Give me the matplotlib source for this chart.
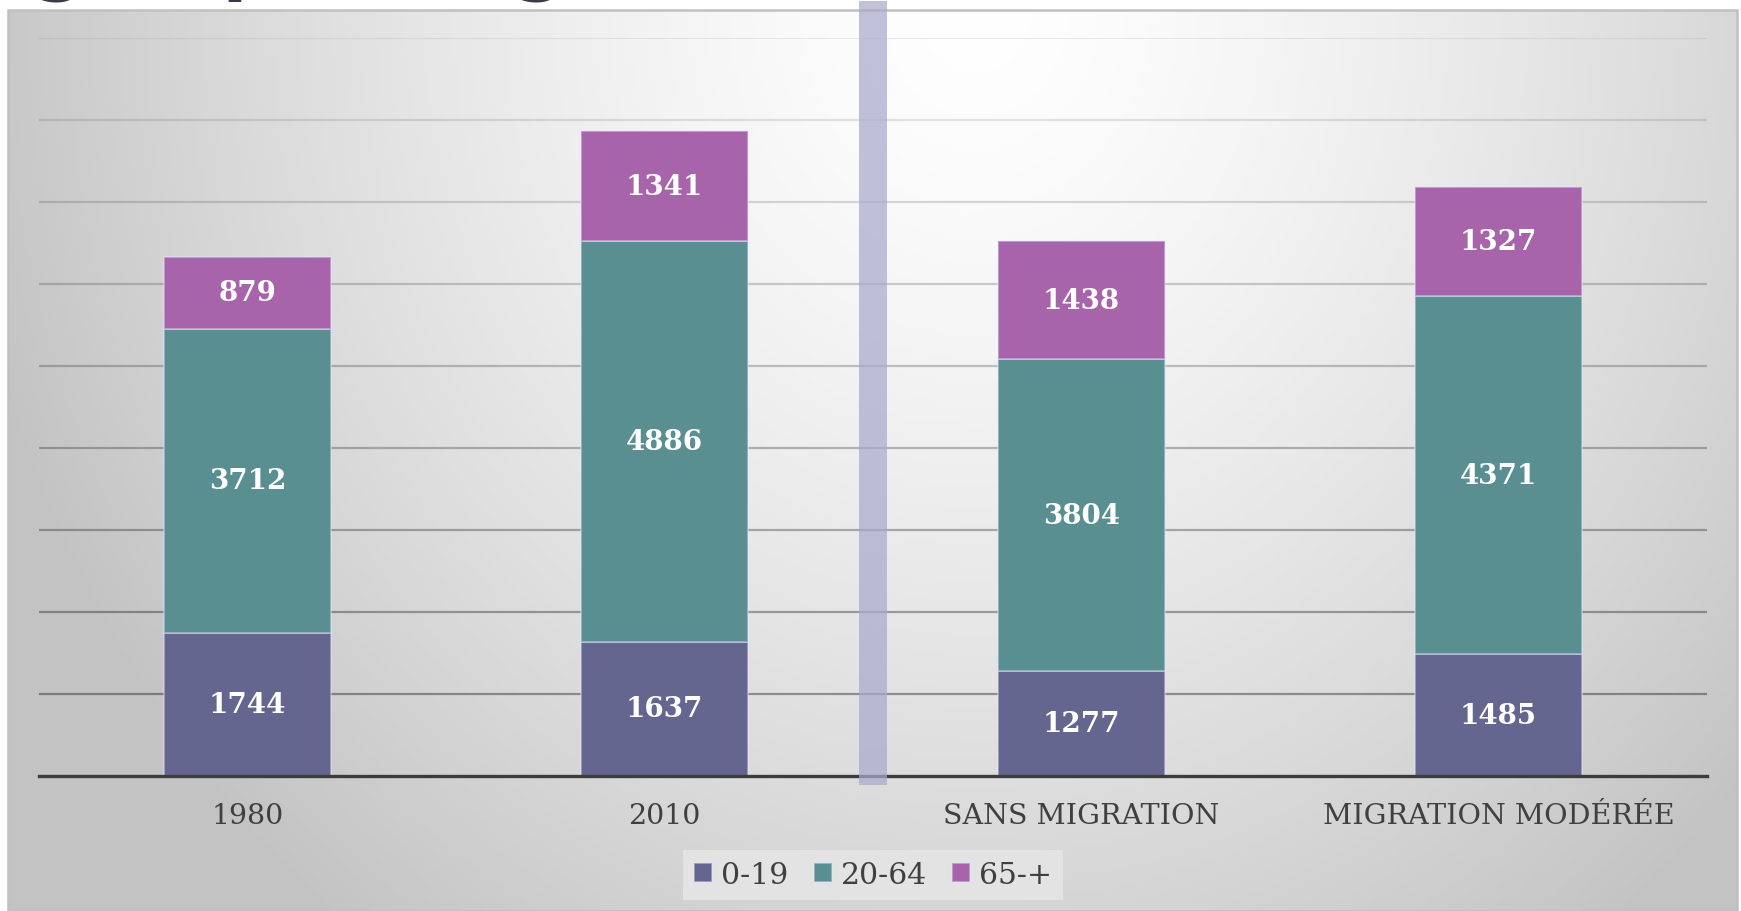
import numpy as np
import matplotlib
matplotlib.use('Agg')
import matplotlib.pyplot as plt
from matplotlib.patches import Rectangle

# ── data ────────────────────────────────────────────────────────────────
categories = ["1980", "2010", "SANS MIGRATION", "MIGRATION MODÉRÉE"]
age_groups = ["0-19", "20-64", "65-+"]
pop_0_19   = [1744, 1637, 1277, 1485]
pop_20_64  = [3712, 4886, 3804, 4371]
pop_65     = [879, 1341, 1438, 1327]
grid_levels = list(range(1000, 9001, 1000))

COLORS = ["#65668f", "#5a8f91", "#a864ab"]
TEXT_C = "#404040"
SERIF  = "DejaVu Serif"

fig = plt.figure(figsize=(17.41, 9.12), dpi=100)
fig.patch.set_facecolor("white")

# ── gradient panel behind the chart ─────────────────────────────────────
px0, py0, px1, py1 = 8 / 1741, 0.0, 1737 / 1741, 1 - 11 / 912
bg = fig.add_axes([px0, py0, px1 - px0, py1 - py0], zorder=0)
gx, gy = np.meshgrid(np.linspace(0, 1, 500), np.linspace(0, 1, 260))
d = np.sqrt(((gx - 0.56) / 0.6) ** 2 + ((gy - 1.0) / 1.3) ** 2)
shade = 255 - 60 * np.clip(d, 0, 1) ** 1.4
img = np.dstack([shade, shade, shade]).astype(np.uint8)
bg.imshow(img, origin="lower", extent=[0, 1, 0, 1], aspect="auto")
bg.set_xlim(0, 1)
bg.set_ylim(0, 1)
bg.axis("off")
fig.patches.append(Rectangle((px0, py0), px1 - px0, py1 - py0, transform=fig.transFigure,
                             fill=False, edgecolor="#c0c0c0", lw=1.8, zorder=1))

# clipped title, only the descenders show at the top edge
fig.text(34 / 1741, 1 + 13 / 912, "groupes d'âge", fontsize=52, fontweight="bold",
         color="#3a3a48", va="baseline", ha="left", family="DejaVu Sans")

# ── main axes ───────────────────────────────────────────────────────────
ax = fig.add_axes([39 / 1741, 135 / 912, 1668 / 1741, 738 / 912], zorder=2)
ax.patch.set_alpha(0)
x = np.arange(len(categories))
width = 0.4

# gridlines get darker toward the baseline
for lvl in grid_levels:
    a = 0.07 + 0.30 * (1 - (lvl - 1000) / 8000)
    ax.axhline(lvl, color="black", alpha=a, lw=1.6, zorder=1)

bottoms = np.zeros(len(categories))
for vals, name, col in zip([pop_0_19, pop_20_64, pop_65], age_groups, COLORS):
    bars = ax.bar(x, vals, width, bottom=bottoms, color=col, label=name,
                  edgecolor=(0.9, 0.9, 1, 0.5), linewidth=1.2, zorder=3)
    for b, v, bt in zip(bars, vals, bottoms):
        ax.text(b.get_x() + b.get_width() / 2, bt + v / 2, str(v), ha="center", va="center",
                color="white", fontsize=20, fontweight="bold", family=SERIF, zorder=4)
    bottoms += np.array(vals)

ax.set_xlim(-0.5, len(categories) - 0.5)
ax.set_ylim(0, 9000)
ax.set_yticks([])
ax.set_xticks(x)
ax.set_xticklabels(categories, family=SERIF, fontsize=20.5, color=TEXT_C)
ax.tick_params(axis="x", length=0, pad=19)
for s in ["top", "right", "left"]:
    ax.spines[s].set_visible(False)
ax.spines["bottom"].set_color("#3c3c3c")
ax.spines["bottom"].set_linewidth(2.4)
ax.spines["bottom"].set_zorder(5)

# separator between observed years and scenarios
ax.axvspan(1.5 - 0.034, 1.5 + 0.034, ymin=-0.012, ymax=1.05, color="#a9a9cc",
           alpha=0.72, lw=0, clip_on=False, zorder=6)

leg = fig.legend(loc="center", bbox_to_anchor=(0.5015, 0.0395), ncol=3,
                 prop={"family": SERIF, "size": 21.5}, frameon=True, fancybox=False,
                 handlelength=0.6, handleheight=0.6, handletextpad=0.3,
                 columnspacing=0.85, borderpad=0.38)
leg.get_frame().set_facecolor("#e3e3e3")
leg.get_frame().set_edgecolor("none")
leg.get_frame().set_alpha(1)
for t in leg.get_texts():
    t.set_color(TEXT_C)

fig.savefig("out.png", dpi=100)
